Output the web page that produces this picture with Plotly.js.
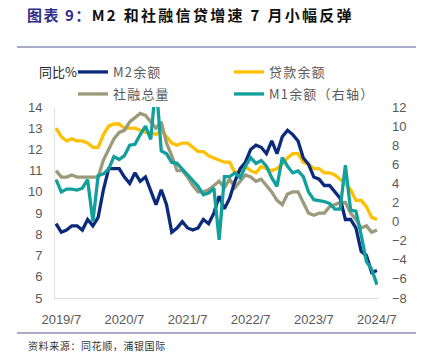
<!DOCTYPE html>
<html>
<head>
<meta charset="utf-8">
<script src="https://cdn.plot.ly/plotly-3.0.1.min.js"></script>
<style>html,body{margin:0;padding:0;background:#fff;}</style>
</head>
<body>
<div id="chart" style="width:422px;height:354px;"></div>
<script>
const months = [
 '2019/6','2019/7','2019/8','2019/9','2019/10','2019/11','2019/12',
 '2020/1','2020/2','2020/3','2020/4','2020/5','2020/6','2020/7','2020/8','2020/9','2020/10','2020/11','2020/12',
 '2021/1','2021/2','2021/3','2021/4','2021/5','2021/6','2021/7','2021/8','2021/9','2021/10','2021/11','2021/12',
 '2022/1','2022/2','2022/3','2022/4','2022/5','2022/6','2022/7','2022/8','2022/9','2022/10','2022/11','2022/12',
 '2023/1','2023/2','2023/3','2023/4','2023/5','2023/6','2023/7','2023/8','2023/9','2023/10','2023/11','2023/12',
 '2024/1','2024/2','2024/3','2024/4','2024/5','2024/6','2024/7'
];
const m2 = [
 8.5, 8.1, 8.2, 8.4, 8.4, 8.2, 8.7,
 8.4, 8.8, 10.1, 11.1, 11.1, 11.1, 10.7, 10.4, 10.9, 10.5, 10.7, 10.1,
 9.4, 10.1, 9.4, 8.1, 8.3, 8.6, 8.3, 8.2, 8.3, 8.7, 8.5, 9.0,
 9.8, 9.2, 9.7, 10.5, 11.1, 11.4, 12.0, 12.2, 12.1, 11.8, 12.4, 11.8,
 12.6, 12.9, 12.7, 12.4, 11.6, 11.3, 10.7, 10.6, 10.3, 10.3, 10.0, 9.7,
 8.7, 8.7, 8.3, 7.2, 7.0, 6.2, 6.3
];
const loans = [
 13.0, 12.6, 12.4, 12.5, 12.4, 12.4, 12.3,
 12.1, 12.1, 12.7, 13.1, 13.2, 13.2, 13.0, 13.0, 13.0, 12.9, 12.8, 12.8,
 12.7, 12.9, 12.6, 12.3, 12.2, 12.3, 12.3, 12.1, 11.9, 11.9, 11.7, 11.6,
 11.5, 11.4, 11.4, 10.9, 11.0, 11.2, 11.0, 10.9, 11.2, 11.1, 11.0, 11.1,
 11.3, 11.6, 11.8, 11.8, 11.4, 11.3, 11.1, 11.1, 10.9, 10.9, 10.8, 10.6,
 10.4, 10.1, 9.6, 9.6, 9.3, 8.8, 8.7
];
const tsf = [
 11.0, 10.7, 10.7, 10.8, 10.7, 10.7, 10.7,
 10.7, 10.7, 11.5, 12.0, 12.5, 12.8, 12.9, 13.3, 13.5, 13.7, 13.6, 13.3,
 13.0, 13.3, 12.3, 11.7, 11.0, 11.0, 10.7, 10.3, 10.0, 10.0, 10.1, 10.3,
 10.5, 10.2, 10.6, 10.2, 10.5, 10.8, 10.7, 10.5, 10.6, 10.3, 10.0, 9.6,
 9.4, 9.9, 10.0, 10.0, 9.5, 9.0, 8.9, 9.0, 9.0, 9.3, 9.4, 9.5,
 9.5, 9.0, 8.7, 8.3, 8.4, 8.1, 8.2
];
const m1 = [
 4.4, 3.1, 3.4, 3.4, 3.3, 3.5, 4.4,
 0.0, 4.8, 5.0, 5.5, 6.8, 6.5, 6.9, 8.0, 8.1, 9.1, 10.0, 8.6,
 14.7, 7.4, 7.1, 6.2, 6.1, 5.5, 4.9, 4.2, 3.7, 2.8, 3.0, 3.5,
 -1.9, 4.7, 4.7, 5.1, 4.6, 5.8, 6.7, 6.1, 6.4, 5.8, 4.6, 3.7,
 6.7, 5.8, 5.1, 5.3, 4.7, 3.1, 2.3, 2.2, 2.1, 1.9, 1.3, 1.3,
 5.9, 1.2, 1.1, -1.4, -4.2, -5.0, -6.6
];
const seriesNames = ['M2余额', '贷款余额', '社融总量', 'M1余额（右轴）'];
const xTicks = ['2019/7','2020/7','2021/7','2022/7','2023/7','2024/7'];

const W = 422, H = 354;
const L = 55, R = 378, T = 107, B = 298;
const px = v => (v - L) / (R - L);
const py = v => (B - v) / (B - T);
const spaced = (s, n) => '<span style="letter-spacing:' + n + 'px">' + s + '</span>';

const lw = 3.3;
const traces = [
  {x: months, y: loans, name: spaced(seriesNames[1], 1.2), legend: 'legend', legendrank: 2, type: 'scatter', mode: 'lines',
   line: {color: '#FFC000', width: lw}},
  {x: months, y: tsf, name: spaced(seriesNames[2], 1.2), legend: 'legend2', legendrank: 1, type: 'scatter', mode: 'lines',
   line: {color: '#9B9A7A', width: lw}},
  {x: months, y: m2, name: spaced(seriesNames[0], 1.2), legend: 'legend', legendrank: 1, type: 'scatter', mode: 'lines',
   line: {color: '#0B2A7C', width: lw}},
  {x: months, y: m1, name: spaced(seriesNames[3], 1.2), legend: 'legend2', legendrank: 2, type: 'scatter', mode: 'lines', yaxis: 'y2',
   line: {color: '#12A09D', width: lw}}
];

const tickFont = {family: 'Liberation Sans, Arial, sans-serif', size: 13, color: '#595959'};
const cjk = 'Noto Sans CJK SC, sans-serif';
const frameColor = '#8F8FB8';

const legendBase = {
  orientation: 'h', x: px(73), xanchor: 'left', yanchor: 'middle',
  entrywidth: 111, entrywidthmode: 'pixels', traceorder: 'normal',
  font: {family: cjk, size: 13, color: '#595959'},
  bgcolor: 'rgba(0,0,0,0)', itemwidth: 30
};

const layout = {
  width: W, height: H,
  margin: {l: L, r: W - R, t: T, b: H - B},
  paper_bgcolor: '#ffffff', plot_bgcolor: '#ffffff',
  showlegend: true,
  title: {
    text: '<span style="color:#2E2E8A;letter-spacing:1.5px">图表 9：</span><span style="color:#111111;letter-spacing:2.3px">M2 和社融信贷增速 7 月小幅反弹</span>',
    font: {family: cjk, size: 15, weight: 700},
    x: 27 / W, xanchor: 'left', xref: 'container',
    y: 1 - 16 / H, yanchor: 'middle', yref: 'container'
  },
  legend: Object.assign({}, legendBase, {y: py(72)}),
  legend2: Object.assign({}, legendBase, {y: py(94)}),
  xaxis: {
    type: 'category', range: [-0.2, months.length - 0.8],
    tickvals: xTicks, ticktext: xTicks,
    showgrid: false, zeroline: false, showline: true, linecolor: '#D9D9D9', linewidth: 1,
    ticks: '', tickfont: tickFont, ticklabelstandoff: 9
  },
  yaxis: {
    range: [5, 14], dtick: 1, showgrid: false, zeroline: false,
    showline: true, linecolor: '#E3E3E3', linewidth: 1,
    ticks: '', tickfont: tickFont, ticklabelstandoff: 9
  },
  yaxis2: {
    overlaying: 'y', side: 'right', range: [-8, 12], dtick: 2,
    showgrid: false, zeroline: false, showline: false,
    ticks: '', tickfont: tickFont, ticklabelstandoff: 13
  },
  annotations: [
    {text: '同比%', xref: 'paper', yref: 'paper', x: px(37), y: py(71), xanchor: 'left', yanchor: 'middle',
     showarrow: false, font: {family: cjk, size: 13, color: '#262626'}},
    {text: spaced('资料来源：同花顺，浦银国际', 0.6), xref: 'paper', yref: 'paper', x: px(26), y: py(345), xanchor: 'left', yanchor: 'middle',
     showarrow: false, font: {family: cjk, size: 10, color: '#333333'}}
  ],
  shapes: [
    {type: 'line', xref: 'paper', yref: 'paper', x0: px(17), x1: px(416), y0: py(47), y1: py(47),
     line: {color: frameColor, width: 1.5}},
    {type: 'line', xref: 'paper', yref: 'paper', x0: px(17), x1: px(416), y0: py(333), y1: py(333),
     line: {color: frameColor, width: 1.5}}
  ]
};

Plotly.newPlot('chart', traces, layout, {staticPlot: true, displayModeBar: false});
</script>
</body>
</html>
